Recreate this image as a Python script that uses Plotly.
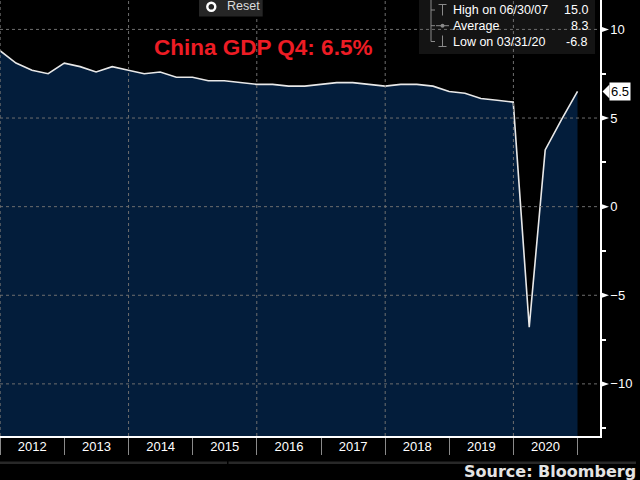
import plotly.graph_objects as go

# ---------------- data ----------------
quarter_ends = [
    "2011-12-31",
    "2012-03-31", "2012-06-30", "2012-09-30", "2012-12-31",
    "2013-03-31", "2013-06-30", "2013-09-30", "2013-12-31",
    "2014-03-31", "2014-06-30", "2014-09-30", "2014-12-31",
    "2015-03-31", "2015-06-30", "2015-09-30", "2015-12-31",
    "2016-03-31", "2016-06-30", "2016-09-30", "2016-12-31",
    "2017-03-31", "2017-06-30", "2017-09-30", "2017-12-31",
    "2018-03-31", "2018-06-30", "2018-09-30", "2018-12-31",
    "2019-03-31", "2019-06-30", "2019-09-30", "2019-12-31",
    "2020-03-31", "2020-06-30", "2020-09-30", "2020-12-31",
]
gdp_yoy = [
    8.8,
    8.1, 7.7, 7.5, 8.1,
    7.9, 7.6, 7.9, 7.7,
    7.5, 7.6, 7.3, 7.3,
    7.1, 7.1, 7.0, 6.9,
    6.9, 6.8, 6.8, 6.9,
    7.0, 7.0, 6.9, 6.8,
    6.9, 6.9, 6.8, 6.5,
    6.4, 6.1, 6.0, 5.9,
    -6.8, 3.2, 4.9, 6.5,
]
y_major_ticks = [-10, -5, 0, 5, 10]
y_minor_ticks = [-12.5, -7.5, -2.5, 2.5, 7.5]
grid_years = ["2012-01-01", "2014-01-01", "2016-01-01", "2018-01-01", "2020-01-01"]
legend_labels = ["High on 06/30/07", "Average", "Low on 03/31/20"]
legend_values = ["15.0", "8.3", "-6.8"]
title_text = "China GDP Q4: 6.5%"
source_text = "Source: Bloomberg"
last_label = "6.5"

X_RANGE = ["2011-12-31", "2021-05-08"]
Y_RANGE = [-12.94, 11.66]

# ---------------- layout helpers ----------------
W, H = 640, 480
ML, MR, MT, MB = 0, 40, 0, 44
PW, PH = W - ML - MR, H - MT - MB


def px(x):
    return (x - ML) / PW


def py(y):
    return 1 - (y - MT) / PH


NAVY = "#031d3b"
GRID = "#6e6e6e"
SANS = "Liberation Sans, Arial"
units_per_px = (Y_RANGE[1] - Y_RANGE[0]) / PH

fig = go.Figure()
fig.add_trace(go.Scatter(
    x=quarter_ends, y=[Y_RANGE[0]] * len(quarter_ends), mode="lines",
    line=dict(width=0, color=NAVY), hoverinfo="skip", showlegend=False))
fig.add_trace(go.Scatter(
    x=quarter_ends, y=gdp_yoy, mode="lines", fill="tonexty", fillcolor=NAVY,
    line=dict(color="#e8e8e8", width=1.6), hoverinfo="skip", showlegend=False))

shapes = []
# legend box (behind grid)
shapes.append(dict(type="rect", xref="paper", yref="paper", x0=px(419), x1=px(595),
                   y0=py(54), y1=py(-6), fillcolor="#141414", line=dict(width=0), layer="above"))
# grid lines
for v in y_major_ticks:
    shapes.append(dict(type="line", xref="paper", yref="y", x0=0, x1=1, y0=v, y1=v,
                       line=dict(color=GRID, width=1, dash="3px,3px"), layer="above"))
for d in grid_years:
    shapes.append(dict(type="line", xref="x", yref="paper", x0=d, x1=d, y0=0, y1=1,
                       line=dict(color=GRID, width=1, dash="3px,3px"), layer="above"))
# tick flags on the value axis
for v in y_major_ticks:
    shapes.append(dict(type="path", xref="paper", yref="y", layer="above",
                       path=f"M {px(600.5)} {v + 3 * units_per_px} L {px(609)} {v} "
                            f"L {px(600.5)} {v - 3 * units_per_px} Z",
                       fillcolor="white", line=dict(width=0)))
# reset button
shapes.append(dict(type="rect", xref="paper", yref="paper", x0=px(199), x1=px(262.7),
                   y0=py(16.5), y1=py(-6), fillcolor="#262626", line=dict(width=0), layer="above"))
shapes.append(dict(type="circle", xref="paper", yref="paper", x0=px(207.3), x1=px(215.3),
                   y0=py(10.7), y1=py(2.7), fillcolor="#262626",
                   line=dict(color="white", width=2.4), layer="above"))
# legend bracket + icons
ICON = "#8a8a8a"


def seg(x0, y0, x1, y1, w=1):
    shapes.append(dict(type="line", xref="paper", yref="paper", x0=px(x0), x1=px(x1),
                       y0=py(y0), y1=py(y1), line=dict(color=ICON, width=w), layer="above"))


seg(431, -2, 431, 41.5)
for yy in (10, 25.7, 41.5):
    seg(431, yy, 435, yy)
seg(438.5, 4.5, 446.5, 4.5)
seg(442.5, 4.5, 442.5, 15.5)
seg(436, 25.7, 449, 25.7)
shapes.append(dict(type="circle", xref="paper", yref="paper", x0=px(440.5), x1=px(444.5),
                   y0=py(27.7), y1=py(23.7), fillcolor=ICON, line=dict(width=0), layer="above"))
seg(442.5, 35.5, 442.5, 46.5)
seg(438.5, 46.5, 446.5, 46.5)
# scrollbar strip below the axis
shapes.append(dict(type="rect", xref="paper", yref="paper", x0=px(0), x1=px(227),
                   y0=py(464), y1=py(461.5), fillcolor="#282828", line=dict(width=0)))
shapes.append(dict(type="rect", xref="paper", yref="paper", x0=px(228.5), x1=px(636),
                   y0=py(464), y1=py(461.5), fillcolor="#282828", line=dict(width=0)))
# last value tag pointer
last_v = gdp_yoy[-1]
shapes.append(dict(type="path", xref="paper", yref="y", layer="above",
                   path=f"M {px(602.5)} {last_v} L {px(609.5)} {last_v + 7 * units_per_px} "
                        f"L {px(609.5)} {last_v - 7 * units_per_px} Z",
                   fillcolor="white", line=dict(width=0)))

annotations = [
    dict(text=title_text, xref="paper", yref="paper", x=px(262.5), y=py(47.5),
         xanchor="center", yanchor="middle", showarrow=False,
         font=dict(family=SANS, size=22.5, color="#ed1c24", weight="bold")),
    dict(text="Reset", xref="paper", yref="paper", x=px(225), y=py(6.5),
         xanchor="left", yanchor="middle", showarrow=False,
         font=dict(family=SANS, size=12.5, color="#dcdcdc")),
    dict(text=source_text, xref="paper", yref="paper", x=px(638), y=py(471.5),
         xanchor="right", yanchor="middle", showarrow=False,
         font=dict(family="DejaVu Sans, Verdana", size=16, color="#e4e4e4", weight="bold")),
    dict(text=last_label, xref="paper", yref="y", x=px(608.5), y=last_v,
         xanchor="left", yanchor="middle", showarrow=False, bgcolor="white", borderpad=1,
         font=dict(family=SANS, size=13, color="black")),
]
for lab, val, yy in zip(legend_labels, legend_values, (10, 25.7, 41.5)):
    annotations.append(dict(text=lab, xref="paper", yref="paper", x=px(451), y=py(yy),
                            xanchor="left", yanchor="middle", showarrow=False,
                            font=dict(family=SANS, size=12.5, color="white")))
    annotations.append(dict(text=val, xref="paper", yref="paper", x=px(590), y=py(yy),
                            xanchor="right", yanchor="middle", showarrow=False,
                            font=dict(family=SANS, size=12.5, color="white")))

fig.update_layout(
    width=W, height=H,
    margin=dict(l=ML, r=MR, t=MT, b=MB, pad=0),
    paper_bgcolor="black", plot_bgcolor="black",
    showlegend=False,
    shapes=shapes, annotations=annotations,
    xaxis=dict(
        type="date", range=X_RANGE, tick0="2012-01-01", dtick="M12",
        ticklabelmode="period", tickformat="%Y",
        ticks="outside", ticklen=17, tickwidth=1, tickcolor="#8a8a8a",
        ticklabelstandoff=-19,
        showline=True, linecolor="white", linewidth=1.5,
        showgrid=False, zeroline=False, automargin=False,
        tickfont=dict(family=SANS, size=13, color="white"),
    ),
    yaxis=dict(
        range=Y_RANGE, side="right",
        tickmode="array", tickvals=y_major_ticks,
        ticks="", showline=True, linecolor="white", linewidth=1.5,
        showgrid=False, zeroline=False, automargin=False,
        ticklabelstandoff=6,
        tickfont=dict(family=SANS, size=13, color="white"),
        minor=dict(tickmode="array", tickvals=y_minor_ticks, ticks="outside",
                   ticklen=4, tickwidth=1.5, tickcolor="white"),
    ),
)

fig.write_html(
    "out.html",
    config={"displayModeBar": False},
    post_script="document.body.style.margin='0px';document.body.style.overflow='hidden';",
)
